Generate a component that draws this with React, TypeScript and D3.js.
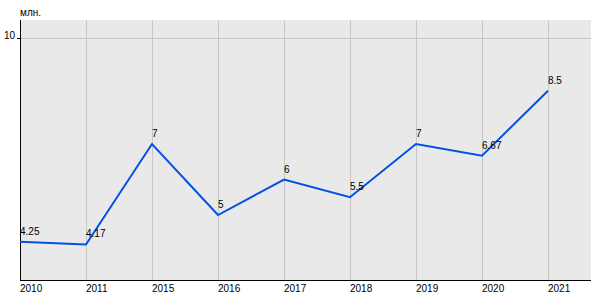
import React from "react";
import * as d3 from "d3";

const years: string[] = ["2010", "2011", "2015", "2016", "2017", "2018", "2019", "2020", "2021"];
const values: number[] = [4.25, 4.17, 7, 5, 6, 5.5, 7, 6.67, 8.5];
const valueLabels: string[] = ["4.25", "4.17", "7", "5", "6", "5.5", "7", "6.67", "8.5"];
const yTicks: number[] = [10];
const unitLabel = "млн.";

export default function App() {
  const W = 600, H = 300;
  const left = 20, right = 591, top = 20, bottom = 280;
  const x = d3.scalePoint<string>().domain(years).range([left, 548]);
  const y = d3.scaleLinear().domain([3.17, 10]).range([bottom, 37.5]);
  const line = d3.line<number>()
    .x((_, i) => x(years[i]) as number)
    .y((d) => y(d));
  const font = "Arial, 'Liberation Sans', sans-serif";
  return (
    <svg width={W} height={H} style={{ position: "absolute", left: 0, top: 0 }} fontFamily={font}>
      <rect x={0} y={0} width={W} height={H} fill="#fff" />
      <rect x={left} y={top} width={right - left} height={bottom - top} fill="#e9e9e9" />
      {years.slice(1).map((yr) => (
        <line key={yr} x1={x(yr)! + 0.5} x2={x(yr)! + 0.5} y1={top} y2={bottom} stroke="#c6c6c6" strokeWidth={1} />
      ))}
      {yTicks.map((t) => (
        <g key={t}>
          <line x1={left} x2={right} y1={Math.round(y(t)) + 0.5} y2={Math.round(y(t)) + 0.5} stroke="#c6c6c6" strokeWidth={1} />
          <line x1={17} x2={left} y1={Math.round(y(t)) + 0.5} y2={Math.round(y(t)) + 0.5} stroke="#000" strokeWidth={1} />
          <text x={15} y={y(t) + 1} fontSize={10} textAnchor="end" fill="#000">{t}</text>
        </g>
      ))}
      <line x1={left + 0.5} x2={left + 0.5} y1={top} y2={bottom + 1} stroke="#000" strokeWidth={1} />
      <line x1={left} x2={right} y1={bottom + 0.5} y2={bottom + 0.5} stroke="#000" strokeWidth={1} />
      <text x={left} y={16} fontSize={10} fill="#000">{unitLabel}</text>
      {years.map((yr) => (
        <text key={yr} x={x(yr)!} y={292} fontSize={10} textAnchor="start" fill="#000">{yr}</text>
      ))}
      <path d={line(values) || ""} fill="none" stroke="#0050e6" strokeWidth={2} strokeLinejoin="miter" />
      {values.map((v, i) => (
        <text key={i} x={x(years[i])!} y={y(v) - 7} fontSize={10} fill="#000">{valueLabels[i]}</text>
      ))}
    </svg>
  );
}
